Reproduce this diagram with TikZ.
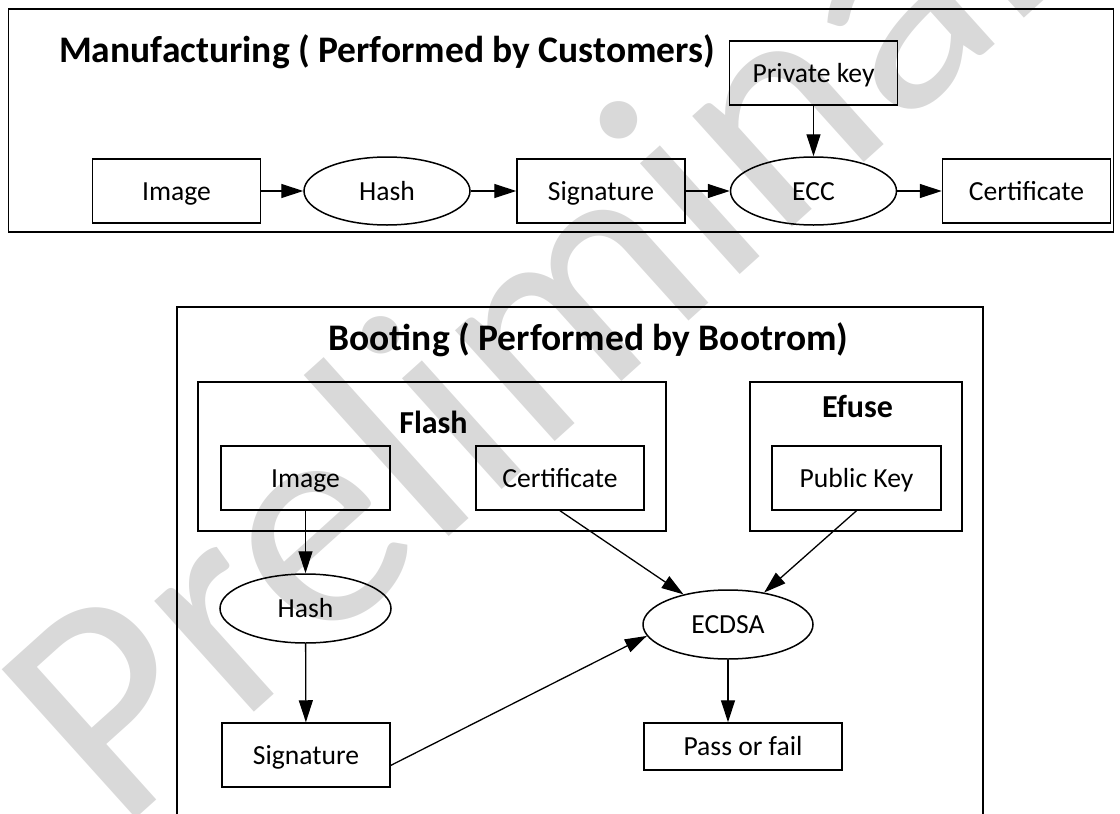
\documentclass[tikz,border=0pt]{standalone}
\usepackage{fontspec}
\setmainfont{Carlito}
\usetikzlibrary{arrows.meta,shapes.geometric}

\begin{document}
\begin{tikzpicture}[x=1pt, y=-1pt,
  panel/.style={draw, line width=1.5pt, rectangle, inner sep=0pt},
  box/.style={draw, line width=1.5pt, rectangle, minimum width=168pt, minimum height=64pt, inner sep=0pt, text height=18pt, text depth=0pt, font=\fontsize{27.6}{33}\selectfont},
  oval/.style={draw, line width=1.5pt, ellipse, minimum width=166pt, minimum height=68pt, inner sep=0pt, text height=18pt, text depth=0pt, font=\fontsize{27.6}{33}\selectfont},
  heading/.style={inner sep=0pt, anchor=base, font=\fontsize{37.5}{45}\selectfont\bfseries},
  subheading/.style={inner sep=0pt, anchor=base, font=\fontsize{32}{38}\selectfont\bfseries},
  flow/.style={line width=1.3pt, -{Triangle[length=22pt,width=14pt]}}]
  \useasboundingbox (0,0) rectangle (1120,814);
  \node[text=black!15, font=\fontsize{312}{312}\selectfont, rotate=42, anchor=base west, inner sep=0pt] (mark) at (119, 834) {Preliminary};

  \node[panel, minimum width=1105pt, minimum height=223pt] (manu) at (561, 120.5) {};
  \node[heading, anchor=base west] (manutitle) at (59, 62) {Manufacturing ( Performed by Customers)};
  \node[box] (pkey) at (813.5, 73) {Private key};
  \node[box] (img1) at (176.5, 191) {Image};
  \node[oval] (hash1) at (387, 191) {Hash};
  \node[box] (sig1) at (601, 191) {Signature};
  \node[oval] (ecc) at (813.5, 191) {ECC};
  \node[box] (cert1) at (1026.5, 191) {Certificate};
  \draw[flow] (img1) to (hash1);
  \draw[flow] (hash1) to (sig1);
  \draw[flow] (sig1) to (ecc);
  \draw[flow] (ecc) to (cert1);
  \draw[flow] (pkey) to (ecc);

  \node[panel, minimum width=806pt, minimum height=530pt] (boot) at (580, 572) {};
  \node[heading] (boottitle) at (588.5, 350) {Booting ( Performed by Bootrom)};
  \node[panel, minimum width=468pt, minimum height=149pt] (flash) at (432, 456.5) {};
  \node[panel, minimum width=212pt, minimum height=149pt] (efuse) at (856, 456.5) {};
  \node[subheading] (flashlabel) at (433.5, 433) {Flash};
  \node[subheading] (efuselabel) at (857.5, 417) {Efuse};
  \node[box, minimum width=169pt] (img2) at (305.5, 478) {Image};
  \node[box] (cert2) at (560, 478) {Certificate};
  \node[box, minimum width=169pt] (pub) at (856.5, 478) {Public Key};
  \node[oval, minimum width=171pt, minimum height=69pt] (hash2) at (305.5, 608.5) {Hash};
  \node[oval, minimum width=170pt, minimum height=69pt] (ecdsa) at (728, 624.5) {ECDSA};
  \node[box] (sig2) at (306, 755) {Signature};
  \node[box, minimum width=198pt, minimum height=47pt] (pass) at (743, 746.5) {Pass or fail};
  \draw[flow] (img2) to (hash2);
  \draw[flow] (hash2) to (sig2);
  \draw[flow] (cert2.south) to (ecdsa);
  \draw[flow] (pub.south) to (ecdsa);
  \draw[flow] (sig2.-7) to (ecdsa.188);
  \draw[flow] (ecdsa) to (ecdsa |- pass.north);
\end{tikzpicture}
\end{document}
